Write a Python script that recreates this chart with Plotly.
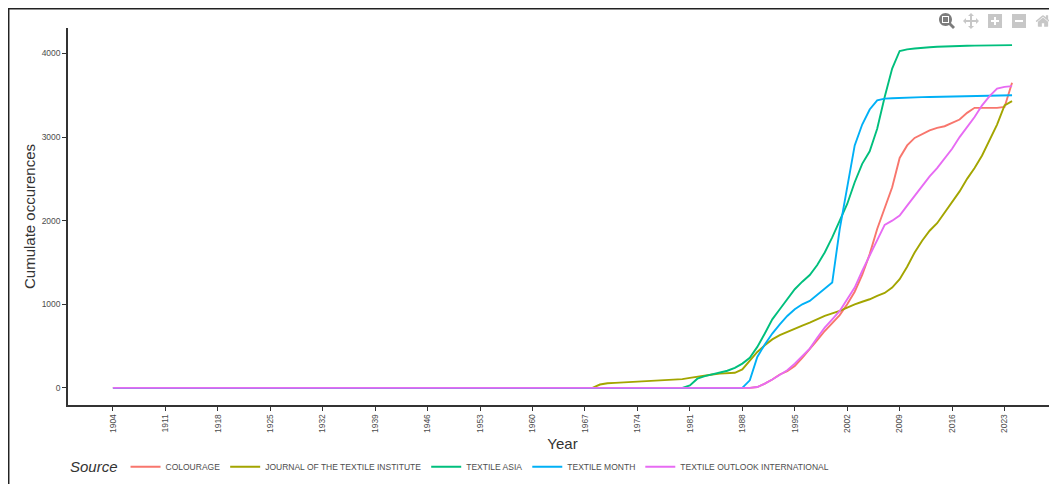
import plotly.graph_objects as go

YEARS = [1904,
         1965, 1966, 1967, 1968, 1969, 1970, 1971, 1972, 1973, 1974,
         1975, 1976, 1977, 1978, 1979, 1980, 1981, 1982, 1983, 1984,
         1985, 1986, 1987, 1988, 1989, 1990, 1991, 1992, 1993, 1994,
         1995, 1996, 1997, 1998, 1999, 2000, 2001, 2002, 2003, 2004,
         2005, 2006, 2007, 2008, 2009, 2010, 2011, 2012, 2013, 2014,
         2015, 2016, 2017, 2018, 2019, 2020, 2021, 2022, 2023, 2024]

COLOURAGE = [0,
             0, 0, 0, 0, 0, 0, 0, 0, 0, 0,
             0, 0, 0, 0, 0, 0, 0, 0, 0, 0,
             0, 0, 0, 0, 0, 10, 50, 100, 160, 200,
             260, 360, 460, 570, 680, 780, 870, 1000, 1150, 1350,
             1600, 1900, 2150, 2400, 2750, 2900, 2990, 3040, 3080, 3110,
             3130, 3170, 3210, 3290, 3350, 3350, 3350, 3350, 3360, 3650]

JOURNAL_TEXTILE_INSTITUTE = [0,
             0, 0, 0, 0, 40, 55, 60, 65, 68, 70,
             72, 78, 84, 90, 95, 105, 120, 135, 150, 160,
             170, 175, 180, 220, 320, 430, 510, 580, 630, 670,
             710, 745, 780, 820, 860, 890, 920, 960, 1000, 1030,
             1060, 1100, 1135, 1200, 1300, 1450, 1620, 1760, 1880, 1970,
             2100, 2220, 2350, 2500, 2630, 2780, 2970, 3150, 3380, 3430]

TEXTILE_ASIA = [0,
             0, 0, 0, 0, 0, 0, 0, 0, 0, 0,
             0, 0, 0, 0, 0, 0, 30, 110, 140, 160,
             180, 205, 240, 290, 360, 490, 650, 820, 940, 1060,
             1180, 1270, 1350, 1470, 1620, 1800, 2000, 2200, 2460, 2680,
             2830, 3100, 3480, 3820, 4030, 4050, 4060, 4070, 4075, 4080,
             4085, 4088, 4090, 4092, 4094, 4096, 4097, 4098, 4099, 4100]

TEXTILE_MONTH = [0,
             0, 0, 0, 0, 0, 0, 0, 0, 0, 0,
             0, 0, 0, 0, 0, 0, 0, 0, 0, 0,
             0, 0, 0, 0, 90, 370, 520, 650, 760, 860,
             940, 1000, 1040, 1110, 1180, 1260, 1900, 2400, 2900, 3150,
             3330, 3440, 3460, 3465, 3470, 3472, 3475, 3478, 3480, 3482,
             3484, 3486, 3488, 3490, 3492, 3494, 3496, 3498, 3500, 3500]

TEXTILE_OUTLOOK_INTL = [0,
             0, 0, 0, 0, 0, 0, 0, 0, 0, 0,
             0, 0, 0, 0, 0, 0, 0, 0, 0, 0,
             0, 0, 0, 0, 0, 10, 50, 100, 150, 210,
             290, 380, 470, 600, 720, 820, 920, 1060, 1200, 1400,
             1580, 1770, 1950, 2000, 2060, 2180, 2300, 2420, 2530, 2630,
             2750, 2860, 3000, 3120, 3240, 3380, 3490, 3580, 3600, 3610]

SERIES = [
    ("COLOURAGE", COLOURAGE, "#F8766D"),
    ("JOURNAL OF THE TEXTILE INSTITUTE", JOURNAL_TEXTILE_INSTITUTE, "#A3A500"),
    ("TEXTILE ASIA", TEXTILE_ASIA, "#00BF7D"),
    ("TEXTILE MONTH", TEXTILE_MONTH, "#00B0F6"),
    ("TEXTILE OUTLOOK INTERNATIONAL", TEXTILE_OUTLOOK_INTL, "#E76BF3"),
]

Y_TICKS = [0, 1000, 2000, 3000, 4000]
X_TICK_START = 1904
X_TICK_STEP = 7

FONT = "Liberation Sans, Arial, sans-serif"

fig = go.Figure()
for name, vals, col in SERIES:
    fig.add_trace(go.Scatter(x=YEARS, y=vals, mode="lines", name=name,
                             line=dict(color=col, width=1.9)))

fig.update_layout(
    width=1049, height=476,
    margin=dict(l=60, r=0, t=20, b=79),
    paper_bgcolor="white", plot_bgcolor="white",
    font=dict(family=FONT, color="#4D4D4D"),
    showlegend=True,
    legend=dict(orientation="h", x=0.0, xanchor="left", y=-0.165, yanchor="middle",
                font=dict(size=8.5, color="#4D4D4D"),
                title=dict(text="<i>Source</i>", font=dict(size=15, color="#333333"), side="left"),
                itemwidth=30, tracegroupgap=0),
    xaxis=dict(range=[1898, 2030], tickmode="linear", tick0=X_TICK_START, dtick=X_TICK_STEP,
               tickangle=-90, tickfont=dict(size=8.5, color="#4D4D4D"),
               ticks="outside", ticklen=4, tickcolor="#333333", tickwidth=1,
               showline=True, linecolor="#333333", linewidth=1.5,
               showgrid=False, zeroline=False, automargin=False,
               title=dict(text="Year", font=dict(size=15, color="#333333"), standoff=6)),
    yaxis=dict(range=[-205, 4305], tickmode="array", tickvals=Y_TICKS,
               ticktext=[str(v) for v in Y_TICKS],
               tickfont=dict(size=8.5, color="#4D4D4D"),
               ticks="outside", ticklen=4, tickcolor="#333333", tickwidth=1,
               showline=True, linecolor="#333333", linewidth=1.5,
               showgrid=False, zeroline=False, automargin=False,
               title=dict(text="Cumulate occurences", font=dict(size=15, color="#333333"), standoff=2)),
    shapes=[
        dict(type="line", xref="paper", yref="paper", x0=-0.0607, x1=-0.0607, y0=1.053, y1=-0.21,
             line=dict(color="#222222", width=3)),
        dict(type="line", xref="paper", yref="paper", x0=-0.0607, x1=1.0, y0=1.053, y1=1.053,
             line=dict(color="#222222", width=3)),
    ],
)

fig.write_html("out.html", config=dict(displayModeBar=True, displaylogo=False,
               modeBarButtons=[["zoom2d", "pan2d", "zoomIn2d", "zoomOut2d", "resetScale2d"]]))
